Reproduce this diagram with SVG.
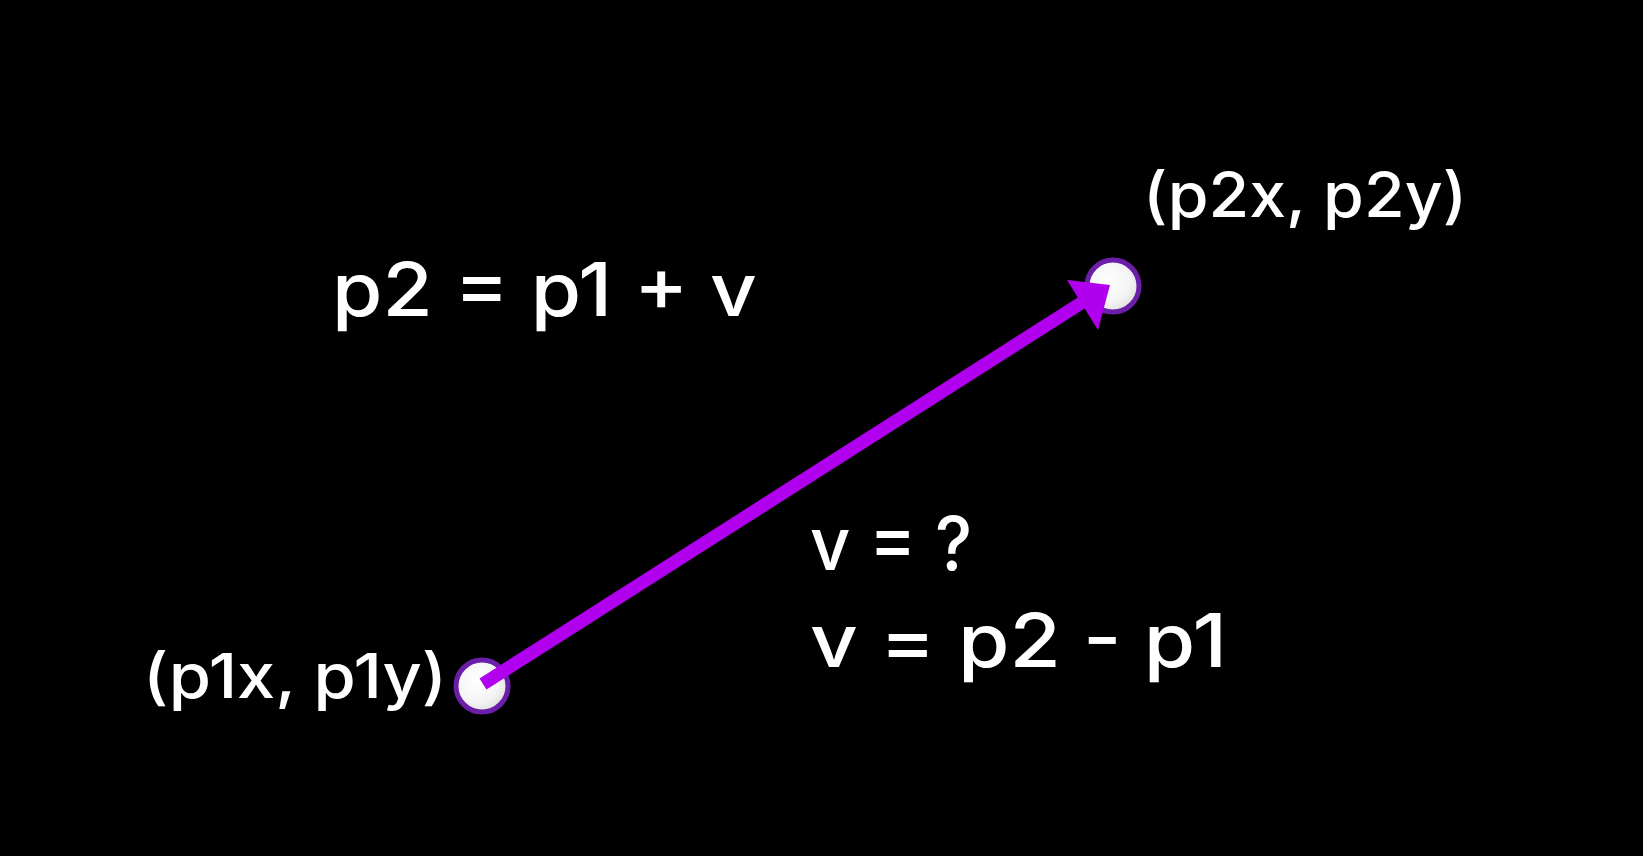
<svg xmlns="http://www.w3.org/2000/svg" width="1643" height="856" viewBox="0 0 1643 856">
  <style>
    .lbl { fill: #ffffff; font-family: Inter, "Liberation Sans", sans-serif; font-weight: 500; }
    .pt { fill: url(#ptfill); stroke: #6b1fa8; stroke-width: 5; }
    .vec { stroke: #b000ee; stroke-width: 13; stroke-linecap: butt; fill: none; }
    .head { fill: #b000ee; }
  </style>
  <defs>
    <radialGradient id="ptfill" cx="0.4" cy="0.4" r="0.7">
      <stop offset="0" stop-color="#ffffff"/>
      <stop offset="0.6" stop-color="#f4f4f4"/>
      <stop offset="1" stop-color="#d8d8d8"/>
    </radialGradient>
  </defs>
  <rect x="0" y="0" width="1643" height="856" fill="#000000"/>

  <g id="p1">
    <circle class="pt" cx="482" cy="686" r="26"/>
    <text class="lbl" x="143" y="698" font-size="62" textLength="304" lengthAdjust="spacingAndGlyphs">(p1x, p1y)</text>
  </g>

  <g id="p2">
    <circle class="pt" cx="1113" cy="286" r="26"/>
    <text class="lbl" x="1143" y="217" font-size="62" textLength="324" lengthAdjust="spacingAndGlyphs">(p2x, p2y)</text>
  </g>

  <g id="eq1">
    <text class="lbl" x="332" y="316" font-size="74" textLength="425" lengthAdjust="spacingAndGlyphs">p2 = p1 + v</text>
  </g>

  <g id="eq2">
    <text class="lbl" x="810" y="570" font-size="74" textLength="162" lengthAdjust="spacingAndGlyphs">v = ?</text>
    <text class="lbl" x="810" y="667" font-size="74" textLength="417" lengthAdjust="spacingAndGlyphs">v = p2 - p1</text>
  </g>

  <g id="connectors">
    <line class="vec" x1="483" y1="684" x2="1086" y2="300"/>
    <polygon class="head" points="1110,285 1067,280 1098,330"/>
  </g>
</svg>
